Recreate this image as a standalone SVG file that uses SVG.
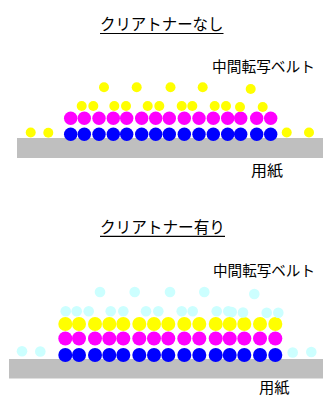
<svg xmlns="http://www.w3.org/2000/svg" width="323" height="396" viewBox="0 0 323 396">
<style>
text{font-family:"Noto Sans CJK JP","Noto Sans",sans-serif;fill:#000}
.t{font-size:16px}
.l{font-size:15px}
.p{font-size:15px}
.u{stroke:#000;stroke-width:1.2}
.g{fill:#BFBFBF}
.b{fill:#0000FF}
.m{fill:#FF00FF}
.y{fill:#FFFF00}
.c{fill:#CCFFFF}
</style>
<rect width="323" height="396" fill="#fff"/>
<g id="panel-without">
<text class="t" x="100" y="30" textLength="123.5" lengthAdjust="spacingAndGlyphs">クリアトナーなし</text>
<line class="u" x1="100" y1="33.5" x2="223.5" y2="33.5"/>
<text class="l" x="212" y="71.5" textLength="103" lengthAdjust="spacingAndGlyphs">中間転写ベルト</text>
<rect class="g" x="17" y="138" width="306" height="20"/>
<text class="p" x="251" y="175.5" textLength="32" lengthAdjust="spacingAndGlyphs">用紙</text>
<g id="blue1" class="b">
<circle cx="70.7" cy="134.3" r="6.7"/><circle cx="84.3" cy="134.3" r="6.7"/><circle cx="99" cy="134.3" r="6.7"/><circle cx="113.3" cy="134.3" r="6.7"/><circle cx="126.7" cy="134.3" r="6.7"/><circle cx="141.7" cy="134.3" r="6.7"/><circle cx="155.7" cy="134.3" r="6.7"/><circle cx="169.3" cy="134.3" r="6.7"/><circle cx="184.3" cy="134.3" r="6.7"/><circle cx="199" cy="134.3" r="6.7"/><circle cx="213.3" cy="134.3" r="6.7"/><circle cx="227.7" cy="134.3" r="6.7"/><circle cx="240.7" cy="134.3" r="6.7"/><circle cx="256.7" cy="134.3" r="6.7"/><circle cx="270.7" cy="134.3" r="6.7"/>
</g>
<g id="magenta1" class="m">
<circle cx="70.7" cy="118.3" r="6.7"/><circle cx="84.3" cy="118.3" r="6.7"/><circle cx="99" cy="118.3" r="6.7"/><circle cx="113.3" cy="118.3" r="6.7"/><circle cx="126.7" cy="118.3" r="6.7"/><circle cx="141.7" cy="118.3" r="6.7"/><circle cx="155.7" cy="118.3" r="6.7"/><circle cx="169.3" cy="118.3" r="6.7"/><circle cx="184.3" cy="118.3" r="6.7"/><circle cx="199" cy="118.3" r="6.7"/><circle cx="213.3" cy="118.3" r="6.7"/><circle cx="227.7" cy="118.3" r="6.7"/><circle cx="240.7" cy="118.3" r="6.7"/><circle cx="256.7" cy="118.3" r="6.7"/><circle cx="270.7" cy="118.3" r="6.7"/>
</g>
<g id="yellow1" class="y">
<circle cx="81.7" cy="106" r="5"/><circle cx="93.3" cy="106" r="5"/><circle cx="114.3" cy="106" r="5"/><circle cx="126" cy="106" r="5"/><circle cx="147.7" cy="106" r="5"/><circle cx="159.3" cy="106" r="5"/><circle cx="181.7" cy="106" r="5"/><circle cx="192.3" cy="106" r="5"/><circle cx="214.7" cy="106" r="5"/><circle cx="226" cy="106" r="5"/><circle cx="240" cy="107" r="5"/><circle cx="262.7" cy="107" r="5"/>
<circle cx="104" cy="87.3" r="5"/><circle cx="136.7" cy="87.3" r="5"/><circle cx="170.5" cy="87.3" r="5"/><circle cx="202.7" cy="87.3" r="5"/><circle cx="250.7" cy="89" r="5"/>
<circle cx="30.7" cy="132.5" r="5"/><circle cx="48.3" cy="132.8" r="5"/><circle cx="286.7" cy="132.5" r="5"/><circle cx="309" cy="132.5" r="5"/>
</g>
</g>
<g id="panel-with">
<text class="t" x="100" y="233" textLength="125" lengthAdjust="spacingAndGlyphs">クリアトナー有り</text>
<line class="u" x1="100" y1="236.3" x2="225" y2="236.3"/>
<text class="l" x="213" y="275.5" textLength="102" lengthAdjust="spacingAndGlyphs">中間転写ベルト</text>
<rect class="g" x="9" y="359" width="314" height="19.5"/>
<text class="p" x="259" y="393" textLength="30.5" lengthAdjust="spacingAndGlyphs">用紙</text>
<g id="blue2" class="b">
<circle cx="65.3" cy="355" r="7"/><circle cx="79" cy="355" r="7"/><circle cx="95" cy="355" r="7"/><circle cx="109.3" cy="355" r="7"/><circle cx="123.3" cy="355" r="7"/><circle cx="139.3" cy="355" r="7"/><circle cx="154" cy="355" r="7"/><circle cx="168.3" cy="355" r="7"/><circle cx="184.3" cy="355" r="7"/><circle cx="199.3" cy="355" r="7"/><circle cx="215.7" cy="355" r="7"/><circle cx="229.7" cy="355" r="7"/><circle cx="244.3" cy="355" r="7"/><circle cx="260" cy="355" r="7"/><circle cx="275.3" cy="355" r="7"/>
</g>
<g id="magenta2" class="m">
<circle cx="65.3" cy="338.5" r="7"/><circle cx="79" cy="338.5" r="7"/><circle cx="95" cy="338.5" r="7"/><circle cx="109.3" cy="338.5" r="7"/><circle cx="123.3" cy="338.5" r="7"/><circle cx="139.3" cy="338.5" r="7"/><circle cx="154" cy="338.5" r="7"/><circle cx="168.3" cy="338.5" r="7"/><circle cx="184.3" cy="338.5" r="7"/><circle cx="199.3" cy="338.5" r="7"/><circle cx="215.7" cy="338.5" r="7"/><circle cx="229.7" cy="338.5" r="7"/><circle cx="244.3" cy="338.5" r="7"/><circle cx="260" cy="338.5" r="7"/><circle cx="275.3" cy="338.5" r="7"/>
</g>
<g id="yellow2" class="y">
<circle cx="65.3" cy="324" r="7"/><circle cx="79" cy="324" r="7"/><circle cx="95" cy="324" r="7"/><circle cx="109.3" cy="324" r="7"/><circle cx="123.3" cy="324" r="7"/><circle cx="139.3" cy="324" r="7"/><circle cx="154" cy="324" r="7"/><circle cx="168.3" cy="324" r="7"/><circle cx="184.3" cy="324" r="7"/><circle cx="199.3" cy="324" r="7"/><circle cx="215.7" cy="324" r="7"/><circle cx="229.7" cy="324" r="7"/><circle cx="244.3" cy="324" r="7"/><circle cx="260" cy="324" r="7"/><circle cx="275.3" cy="324" r="7"/>
</g>
<g id="clear2" class="c">
<circle cx="65.7" cy="311.3" r="5.3"/><circle cx="76.7" cy="311.3" r="5.3"/><circle cx="88.7" cy="311.3" r="5.3"/><circle cx="110.7" cy="311.3" r="5.3"/><circle cx="123.3" cy="311.3" r="5.3"/><circle cx="146" cy="311.3" r="5.3"/><circle cx="158.3" cy="311.3" r="5.3"/><circle cx="181.7" cy="311.3" r="5.3"/><circle cx="192.7" cy="311.3" r="5.3"/><circle cx="216.7" cy="311.3" r="5.3"/><circle cx="228.3" cy="311.3" r="5.3"/><circle cx="231.7" cy="312" r="5.3"/><circle cx="243" cy="312.5" r="5.3"/><circle cx="266.7" cy="312.7" r="5.3"/><circle cx="278.3" cy="312.7" r="5.3"/>
<circle cx="100" cy="292" r="5.3"/><circle cx="134.7" cy="292" r="5.3"/><circle cx="170" cy="292" r="5.3"/><circle cx="204.3" cy="292" r="5.3"/><circle cx="254.3" cy="294" r="5.3"/>
<circle cx="22" cy="351.3" r="5.3"/><circle cx="40.3" cy="351.5" r="5.3"/><circle cx="292.7" cy="352.5" r="5.3"/><circle cx="311.3" cy="352" r="5.3"/>
</g>
</g>
</svg>
